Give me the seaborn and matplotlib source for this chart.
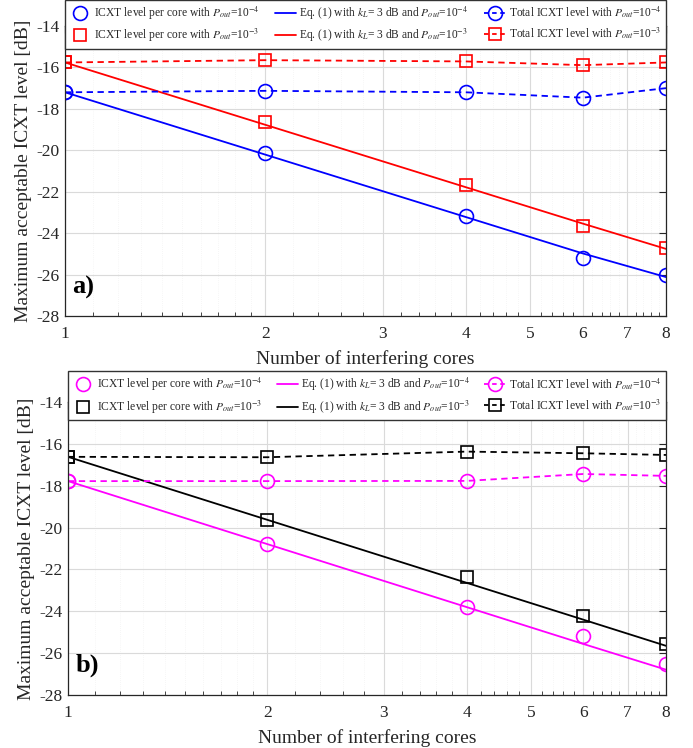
import numpy as np
import pandas as pd
import matplotlib
matplotlib.use("Agg")
import matplotlib.pyplot as plt
from matplotlib.lines import Line2D
from matplotlib.ticker import FixedLocator, NullFormatter
import seaborn as sns

# ---------------- data ----------------
cores = [1, 2, 4, 6, 8]

# panel a)
a_core_m4 = [-17.20, -20.13, -23.19, -25.18, -26.00]
a_eq_m4 = [-17.20, -20.21, -23.22, -24.98, -26.12]
a_tot_m4 = [-17.20, -17.13, -17.20, -17.46, -17.00]
a_core_m3 = [-15.76, -18.65, -21.68, -23.67, -24.73]
a_eq_m3 = [-15.76, -18.77, -21.78, -23.54, -24.76]
a_tot_m3 = [-15.76, -15.65, -15.71, -15.89, -15.76]

# panel b)
b_core_m4 = [-17.78, -20.78, -23.79, -25.17, -26.53]
b_eq_m4 = [-17.78, -20.79, -23.80, -25.56, -26.79]
b_tot_m4 = [-17.78, -17.78, -17.77, -17.44, -17.53]
b_core_m3 = [-16.62, -19.64, -22.35, -24.23, -25.54]
b_eq_m3 = [-16.62, -19.63, -22.64, -24.40, -25.65]
b_tot_m3 = [-16.62, -16.64, -16.37, -16.45, -16.53]

xticks = [1, 2, 3, 4, 5, 6, 7, 8]
yticks = [-28, -26, -24, -22, -20, -18, -16, -14]

lab_core_m4 = r'ICXT level per core with $P_{out}$=10$^{-4}$'
lab_eq_m4 = r'Eq. (1) with $k_L$= 3 dB and $P_{out}$=10$^{-4}$'
lab_tot_m4 = r'Total ICXT level with $P_{out}$=10$^{-4}$'
lab_core_m3 = r'ICXT level per core with $P_{out}$=10$^{-3}$'
lab_eq_m3 = r'Eq. (1) with $k_L$= 3 dB and $P_{out}$=10$^{-3}$'
lab_tot_m3 = r'Total ICXT level with $P_{out}$=10$^{-3}$'

# ---------------- style ----------------
sns.set_theme(style="white")
plt.rcParams['font.family'] = ['Liberation Serif', 'DejaVu Serif']
plt.rcParams['mathtext.fontset'] = 'stix'
plt.rcParams['axes.unicode_minus'] = False

fig = plt.figure(figsize=(6.93, 7.48), dpi=100)
ax1 = fig.add_axes([65/693, (748-316)/748, (666-65)/693, (316-26)/748])
ax2 = fig.add_axes([68/693, (748-695)/748, (666-68)/693, (695-402)/748])

LW = 1.3


def draw_panel(ax, c4, c3, core4, eq4, tot4, core3, eq3, tot3, tag, legend_top):
    df = pd.DataFrame({'x': cores, 'core4': core4, 'eq4': eq4, 'tot4': tot4,
                       'core3': core3, 'eq3': eq3, 'tot3': tot3})
    # Eq. lines
    sns.lineplot(data=df, x='x', y='eq4', ax=ax, color=c4, lw=LW)
    sns.lineplot(data=df, x='x', y='eq3', ax=ax, color=c3, lw=LW)
    # totals (dashed with markers)
    sns.lineplot(data=df, x='x', y='tot4', ax=ax, color=c4, lw=LW,
                 linestyle=(0, (3.5, 2.5)), marker='o', markersize=10,
                 markerfacecolor='none', markeredgecolor=c4, markeredgewidth=1.2)
    sns.lineplot(data=df, x='x', y='tot3', ax=ax, color=c3, lw=LW,
                 linestyle=(0, (3.5, 2.5)), marker='s', markersize=8,
                 markerfacecolor='none', markeredgecolor=c3, markeredgewidth=1.2)
    # per core markers
    sns.lineplot(data=df, x='x', y='core4', ax=ax, color=c4, linestyle='none',
                 marker='o', markersize=10, markerfacecolor='none',
                 markeredgecolor=c4, markeredgewidth=1.2)
    sns.lineplot(data=df, x='x', y='core3', ax=ax, color=c3, linestyle='none',
                 marker='s', markersize=8, markerfacecolor='none',
                 markeredgecolor=c3, markeredgewidth=1.2)

    ax.set_xscale('log')
    ax.set_xlim(1, 8)
    ax.set_ylim(-28, -14)
    ax.xaxis.set_major_locator(FixedLocator(xticks))
    ax.set_xticklabels([str(t) for t in xticks])
    minor = [m for m in np.concatenate([np.arange(1.1, 2.0, 0.1), np.arange(2.2, 8.0, 0.2)])
             if round(m, 3) not in xticks]
    ax.xaxis.set_minor_locator(FixedLocator(minor))
    ax.xaxis.set_minor_formatter(NullFormatter())
    ax.set_yticks(yticks)
    ax.set_yticklabels([str(t) for t in yticks])
    ax.grid(True, which='major', color='#dadada', lw=0.8)
    ax.grid(True, which='minor', axis='x', color='#eeeeee', lw=0.5, linestyle=(0, (1, 2)))
    ax.tick_params(axis='both', which='major', direction='in', length=5, width=0.8,
                   top=True, right=True, labelsize=12.5, colors='#262626')
    ax.tick_params(axis='x', which='major', pad=7)
    ax.tick_params(axis='y', which='major', pad=4)
    ax.tick_params(axis='x', which='minor', direction='in', length=3, width=0.6,
                   top=True, bottom=True)
    for s in ax.spines.values():
        s.set_color('#262626')
        s.set_linewidth(0.9)
    ax.set_xlabel('Number of interfering cores', fontsize=14, color='#262626', labelpad=6)
    ax.set_ylabel('Maximum acceptable ICXT level [dB]', fontsize=14, color='#262626', labelpad=3)
    ax.text(0.012, 0.06, tag, transform=ax.transAxes, fontsize=19, fontweight='bold',
            ha='left', va='bottom', color='black')

    mk4 = 'o'
    mk3 = 's'
    h_core4 = Line2D([], [], color=c4, linestyle='none', marker=mk4, markersize=10,
                     markerfacecolor='none', markeredgewidth=1.2)
    h_core3 = Line2D([], [], color=c3, linestyle='none', marker=mk3, markersize=8,
                     markerfacecolor='none', markeredgewidth=1.2)
    h_eq4 = Line2D([], [], color=c4, lw=LW)
    h_eq3 = Line2D([], [], color=c3, lw=LW)
    h_tot4 = Line2D([], [], color=c4, lw=LW, linestyle=(0, (2.5, 2)), marker=mk4, markersize=10,
                    markerfacecolor='none', markeredgewidth=1.2)
    h_tot3 = Line2D([], [], color=c3, lw=LW, linestyle=(0, (2.5, 2)), marker=mk3, markersize=8,
                    markerfacecolor='none', markeredgewidth=1.2)
    handles = [h_core4, h_core3, h_eq4, h_eq3, h_tot4, h_tot3]
    labels = [lab_core_m4, lab_core_m3, lab_eq_m4, lab_eq_m3, lab_tot_m4, lab_tot_m3]
    leg = ax.legend(handles, labels, ncol=3, loc='upper left', mode='expand',
                    bbox_to_anchor=(0.0, 0.0, 1.0, legend_top), fontsize=8.3,
                    frameon=True, fancybox=False, edgecolor='#333333', framealpha=1,
                    handlelength=1.8, handletextpad=0.3, columnspacing=0.5,
                    borderaxespad=0.0, borderpad=0.4, labelspacing=0.45)
    leg.get_frame().set_linewidth(1.0)
    for t in leg.get_texts():
        t.set_color('#262626')


draw_panel(ax1, '#0000ff', '#ff0000', a_core_m4, a_eq_m4, a_tot_m4,
           a_core_m3, a_eq_m3, a_tot_m3, 'a)', 1.09)
draw_panel(ax2, '#ff00ff', '#000000', b_core_m4, b_eq_m4, b_tot_m4,
           b_core_m3, b_eq_m3, b_tot_m3, 'b)', 1.105)

fig.savefig('out.png', dpi=100)
